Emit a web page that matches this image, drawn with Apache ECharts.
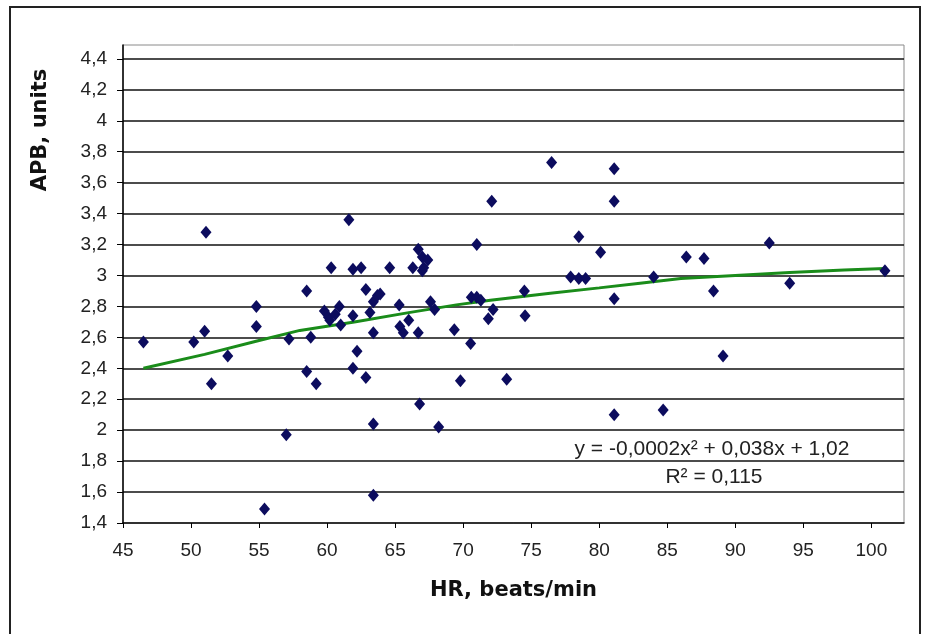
<!DOCTYPE html>
<html><head><meta charset="utf-8">
<script src="https://cdn.jsdelivr.net/npm/echarts@6/dist/echarts.min.js"></script>
<style>html,body{margin:0;padding:0;background:#fff}#c{width:929px;height:634px}</style>
</head><body><div id="c"></div>
<script>
// Scatter points: heart rate (x) and APB (y)
const hr = [46.5,50.2,51.0,51.1,51.5,52.7,54.8,54.8,55.4,57.0,57.2,58.5,58.8,58.5,59.2,59.8,60.1,60.2,60.3,60.6,60.9,61.0,61.6,61.9,61.9,61.9,62.2,62.5,62.85,62.85,63.15,63.4,63.4,63.7,63.9,63.4,63.4,64.6,65.3,65.35,65.6,66.0,66.3,66.7,67.0,67.0,67.1,67.4,66.7,66.8,67.6,67.9,68.2,69.35,69.8,70.55,70.6,71.0,71.0,71.3,71.85,72.2,72.1,73.2,74.5,74.55,76.5,77.9,78.5,78.5,79.0,80.1,81.1,81.1,81.1,81.1,84.0,84.7,86.4,87.7,88.4,89.1,92.5,94.0,101.0];
const apb = [2.57,2.57,2.64,3.28,2.30,2.48,2.80,2.67,1.49,1.97,2.59,2.90,2.60,2.38,2.30,2.77,2.73,2.71,3.05,2.75,2.80,2.68,3.36,3.04,2.74,2.40,2.51,3.05,2.91,2.34,2.76,2.63,2.83,2.87,2.88,2.04,1.58,3.05,2.81,2.67,2.63,2.71,3.05,3.17,3.12,3.03,3.05,3.10,2.63,2.17,2.83,2.78,2.02,2.65,2.32,2.56,2.86,2.86,3.20,2.84,2.72,2.78,3.48,2.33,2.90,2.74,3.73,2.99,3.25,2.98,2.98,3.15,3.69,3.48,2.85,2.10,2.99,2.13,3.12,3.11,2.90,2.48,3.21,2.95,3.03];
// Trend line
const trendHR  = [46.5,51,55,58,62,66,69.5,72,76.4,80,83,86,90,94,98,101];
const trendAPB = [2.40,2.49,2.58,2.645,2.70,2.76,2.81,2.84,2.885,2.92,2.95,2.98,3.0,3.02,3.035,3.045];
// Axis ticks
const xTicks = [45,50,55,60,65,70,75,80,85,90,95,100];
const yTicks = [1.4,1.6,1.8,2.0,2.2,2.4,2.6,2.8,3.0,3.2,3.4,3.6,3.8,4.0,4.2,4.4];
const xTitle = 'HR, beats/min';
const yTitle = 'APB, units';
const eqText = 'y = -0,0002x² + 0,038x + 1,02';
const r2Text = 'R² = 0,115';

const fmt = v => String(Math.round(v * 10) / 10).replace('.', ',');
const scatterData = hr.map((x, i) => [x, apb[i]]);
const trendData = trendHR.map((x, i) => [x, trendAPB[i]]);

const chart = echarts.init(document.getElementById('c'), null, {renderer: 'canvas'});
const labelFont = {fontFamily: 'Liberation Sans, Arial, sans-serif', fontSize: 19, color: '#222'};
chart.setOption({
  animation: false,
  backgroundColor: '#fff',
  grid: {left: 123, right: 25, top: 45, bottom: 111, show: true, borderColor: '#8a8a8a', borderWidth: 1, backgroundColor: '#fff', containLabel: false, outerBoundsMode: 'none'},
  xAxis: {
    type: 'value', min: 45, max: 102.4, interval: 5,
    axisLine: {show: true, lineStyle: {color: '#000', width: 1.5}},
    axisTick: {show: true, inside: false, length: 5, lineStyle: {color: '#000', width: 1}, customValues: xTicks},
    axisLabel: Object.assign({margin: 18, customValues: xTicks, formatter: v => fmt(v)}, labelFont),
    splitLine: {show: false},
    name: xTitle, nameLocation: 'middle', nameGap: 57,
    nameTextStyle: {fontFamily: 'DejaVu Sans, sans-serif', fontWeight: 'bold', fontSize: 21, color: '#111'}
  },
  yAxis: {
    type: 'value', min: 1.4, max: 4.49, interval: 0.2,
    axisLine: {show: true, lineStyle: {color: '#000', width: 1.5}},
    axisTick: {show: true, inside: false, length: 6, lineStyle: {color: '#000', width: 1}, customValues: yTicks},
    axisLabel: Object.assign({margin: 16, customValues: yTicks, formatter: v => fmt(v)}, labelFont),
    splitLine: {show: true, showMinLine: false, lineStyle: {color: '#111', width: 1.5}}
  },
  series: [
    {
      type: 'line', data: trendData, showSymbol: false, symbol: 'none', smooth: false,
      lineStyle: {color: '#1a8c1a', width: 3}, z: 2, silent: true
    },
    {
      type: 'scatter', data: scatterData, symbol: 'diamond', symbolSize: [11, 13],
      itemStyle: {color: '#0c0c5e', opacity: 1}, z: 3
    }
  ],
  graphic: [
    {type: 'rect', shape: {x: 10, y: 7, width: 910, height: 640}, style: {fill: null, stroke: '#222', lineWidth: 2}, z: 100, silent: true},
    {type: 'text', x: 41, y: 130, rotation: Math.PI / 2,
     style: {text: yTitle, fontFamily: 'DejaVu Sans, sans-serif', fontWeight: 'bold', fontSize: 21, fill: '#111', align: 'center', verticalAlign: 'middle'}, z: 100},
    {type: 'text', x: 712, y: 449,
     style: {text: eqText, fontFamily: 'Liberation Sans, Arial, sans-serif', fontSize: 21, fill: '#222', align: 'center', verticalAlign: 'middle'}, z: 100},
    {type: 'text', x: 714, y: 477,
     style: {text: r2Text, fontFamily: 'Liberation Sans, Arial, sans-serif', fontSize: 21, fill: '#222', align: 'center', verticalAlign: 'middle'}, z: 100}
  ]
});
</script>
</body></html>
